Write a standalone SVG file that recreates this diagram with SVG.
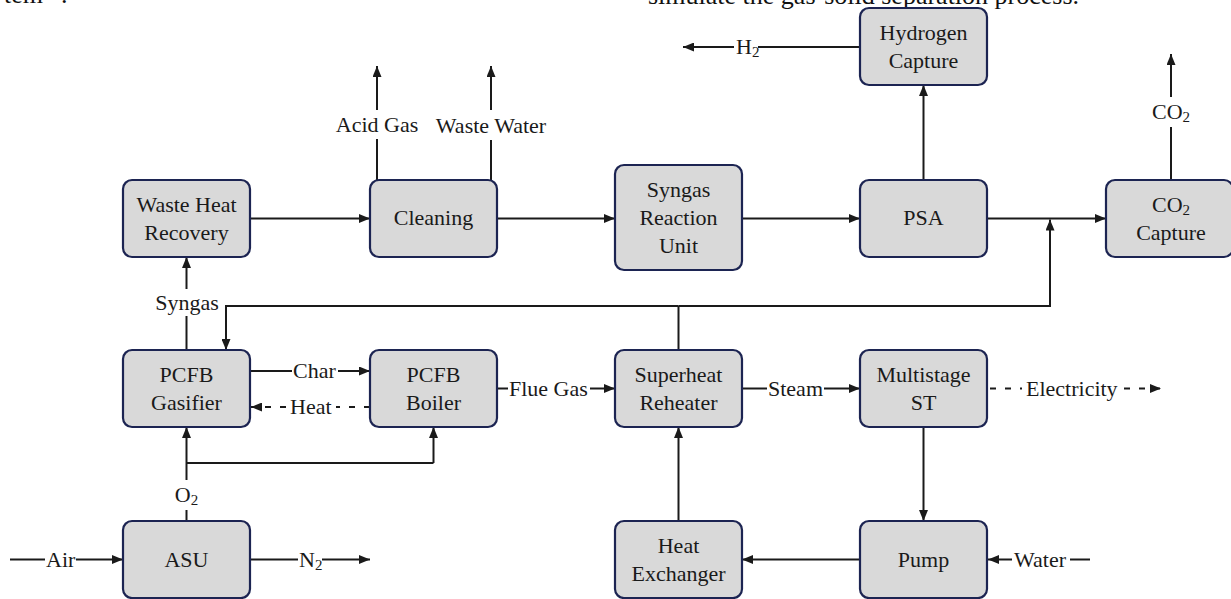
<svg xmlns="http://www.w3.org/2000/svg" width="1231" height="599" viewBox="0 0 1231 599">
<defs>
<marker id="ah" viewBox="0 0 11 9" markerWidth="11" markerHeight="9" refX="11" refY="4.5" orient="auto" markerUnits="userSpaceOnUse">
<path d="M0,0 L11,4.5 L0,9 z" fill="#1a1a1a"/>
</marker>
</defs>
<style>
.box{fill:#d9d9d9;stroke:#1c2452;stroke-width:2.2}
.t{font-family:"Liberation Serif","Times New Roman",serif;font-size:22px;fill:#1a1a1a;text-anchor:middle;dominant-baseline:central}
.l{font-family:"Liberation Serif","Times New Roman",serif;font-size:22px;fill:#1a1a1a;dominant-baseline:central}
.c{fill:none;stroke:#1a1a1a;stroke-width:2}
.a{marker-end:url(#ah)}
.d{stroke-dasharray:6 9}
.cap{font-family:"Liberation Serif","Times New Roman",serif;font-size:26px;fill:#111}
.sub{font-size:15px}
</style>
<rect width="1231" height="599" fill="#ffffff"/>
<text class="cap" x="4" y="3">tem<tspan font-size="17" dy="-10">−1</tspan><tspan dy="10">.</tspan></text>
<text class="cap" x="648" y="4">simulate the gas-solid separation process.</text>

<g id="connectors">
<path class="c a" d="M250,218.5 H370"/>
<path class="c a" d="M497,218.5 H615"/>
<path class="c a" d="M742,218.5 H860"/>
<path class="c a" d="M987,218.5 H1106"/>
<path class="c" d="M377,180 V139"/>
<path class="c a" d="M377,110 V66"/>
<path class="c" d="M491,180 V140"/>
<path class="c a" d="M491,110 V66"/>
<path class="c a" d="M923.5,180 V85"/>
<path class="c" d="M860,47 H758"/>
<path class="c a" d="M734,47 H683"/>
<path class="c" d="M1171,180 V127"/>
<path class="c a" d="M1171,97 V54"/>
<path class="c" d="M186.5,350 V316"/>
<path class="c a" d="M186.5,289 V257"/>
<path class="c" d="M678.5,350 V306"/>
<path class="c a" d="M678.5,306 H226 V350"/>
<path class="c a" d="M678.5,306 H1050 V219.5"/>
<path class="c" d="M250,371 H292"/>
<path class="c a" d="M338,371 H370"/>
<path class="c d" d="M370,407 H336"/>
<path class="c d a" d="M286,407 H251"/>
<path class="c" d="M186.5,521 V510"/>
<path class="c a" d="M186.5,480 V427"/>
<path class="c" d="M186.5,463 H433.5"/>
<path class="c a" d="M433.5,463 V427"/>
<path class="c" d="M10,559.5 H45"/>
<path class="c a" d="M76,559.5 H123"/>
<path class="c" d="M250,559.5 H298"/>
<path class="c a" d="M322,559.5 H370"/>
<path class="c" d="M497,388.5 H508"/>
<path class="c a" d="M590,388.5 H615"/>
<path class="c" d="M742,388.5 H767"/>
<path class="c a" d="M824,388.5 H860"/>
<path class="c d" d="M990,388.5 H1022"/>
<path class="c d a" d="M1124,388.5 H1161"/>
<path class="c a" d="M923.5,427 V521"/>
<path class="c a" d="M860,559.5 H742"/>
<path class="c a" d="M678.5,521 V427"/>
<path class="c" d="M1090,559.5 H1070"/>
<path class="c a" d="M1012,559.5 H988"/>
</g>

<g id="edge-labels">
<text class="t" x="377" y="124">Acid Gas</text>
<text class="t" x="491" y="125">Waste Water</text>
<text class="l" x="736" y="46">H<tspan class="sub" dy="6">2</tspan></text>
<text class="t" x="1171" y="111">CO<tspan class="sub" dy="6">2</tspan></text>
<text class="t" x="187" y="302">Syngas</text>
<text class="l" x="293" y="370">Char</text>
<text class="l" x="290" y="406">Heat</text>
<text class="t" x="186.5" y="494">O<tspan class="sub" dy="6">2</tspan></text>
<text class="l" x="46" y="559">Air</text>
<text class="l" x="299" y="559">N<tspan class="sub" dy="6">2</tspan></text>
<text class="l" x="509" y="388">Flue Gas</text>
<text class="l" x="768" y="388">Steam</text>
<text class="l" x="1026" y="388">Electricity</text>
<text class="l" x="1014" y="559">Water</text>
</g>

<g id="waste-heat-recovery">
<rect class="box" x="123" y="180" width="127" height="77" rx="9"/>
<text class="t" x="186.5" y="204">Waste Heat</text>
<text class="t" x="186.5" y="232">Recovery</text>
</g>
<g id="cleaning">
<rect class="box" x="370" y="180" width="127" height="77" rx="9"/>
<text class="t" x="433.5" y="217">Cleaning</text>
</g>
<g id="syngas-reaction-unit">
<rect class="box" x="615" y="165" width="127" height="105" rx="9"/>
<text class="t" x="678.5" y="189">Syngas</text>
<text class="t" x="678.5" y="217">Reaction</text>
<text class="t" x="678.5" y="245">Unit</text>
</g>
<g id="psa">
<rect class="box" x="860" y="180" width="127" height="77" rx="9"/>
<text class="t" x="923.5" y="217">PSA</text>
</g>
<g id="hydrogen-capture">
<rect class="box" x="860" y="8" width="127" height="77" rx="9"/>
<text class="t" x="923.5" y="32">Hydrogen</text>
<text class="t" x="923.5" y="60">Capture</text>
</g>
<g id="co2-capture">
<rect class="box" x="1106" y="180" width="127" height="77" rx="9"/>
<text class="t" x="1171" y="204">CO<tspan class="sub" dy="6">2</tspan></text>
<text class="t" x="1171" y="232">Capture</text>
</g>
<g id="pcfb-gasifier">
<rect class="box" x="123" y="350" width="127" height="77" rx="9"/>
<text class="t" x="186.5" y="374">PCFB</text>
<text class="t" x="186.5" y="402">Gasifier</text>
</g>
<g id="pcfb-boiler">
<rect class="box" x="370" y="350" width="127" height="77" rx="9"/>
<text class="t" x="433.5" y="374">PCFB</text>
<text class="t" x="433.5" y="402">Boiler</text>
</g>
<g id="superheat-reheater">
<rect class="box" x="615" y="350" width="127" height="77" rx="9"/>
<text class="t" x="678.5" y="374">Superheat</text>
<text class="t" x="678.5" y="402">Reheater</text>
</g>
<g id="multistage-st">
<rect class="box" x="860" y="350" width="127" height="77" rx="9"/>
<text class="t" x="923.5" y="374">Multistage</text>
<text class="t" x="923.5" y="402">ST</text>
</g>
<g id="asu">
<rect class="box" x="123" y="521" width="127" height="77" rx="9"/>
<text class="t" x="186.5" y="559">ASU</text>
</g>
<g id="heat-exchanger">
<rect class="box" x="615" y="521" width="127" height="77" rx="9"/>
<text class="t" x="678.5" y="545">Heat</text>
<text class="t" x="678.5" y="573">Exchanger</text>
</g>
<g id="pump">
<rect class="box" x="860" y="521" width="127" height="77" rx="9"/>
<text class="t" x="923.5" y="559">Pump</text>
</g>
</svg>
